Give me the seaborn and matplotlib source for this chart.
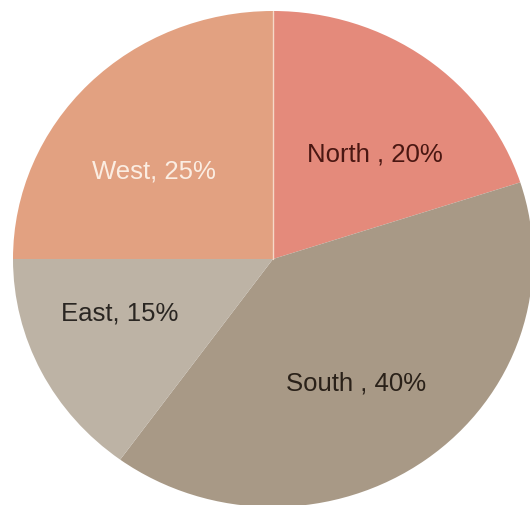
import matplotlib
matplotlib.use("Agg")
import matplotlib.pyplot as plt
import seaborn as sns

regions = ["North", "South", "East", "West"]
shares = [20, 40, 15, 25]
label_texts = ["North , 20%", "South , 40%", "East, 15%", "West, 25%"]
slice_colors = ["#E48A7B", "#A89986", "#BDB3A5", "#E2A181"]
text_colors = ["#4A1712", "#2A2119", "#2A2622", "#FBEDE2"]

# label anchor positions in pie units (layout, not data)
label_x = [0.392, 0.320, -0.590, -0.457]
label_y = [0.425, -0.500, -0.215, 0.355]

sns.set_theme(style="white")
plt.rcParams['font.family'] = ['Liberation Sans', 'DejaVu Sans']

fig = plt.figure(figsize=(5.30, 5.06), dpi=100)
fig.patch.set_facecolor("white")
ax = fig.add_axes([13 / 530, -2 / 506, 520 / 530, 496 / 506])

labels_iter = iter(label_texts)
wedges, _, autotexts = ax.pie(
    shares,
    colors=sns.color_palette(slice_colors),
    startangle=90,
    counterclock=False,
    autopct=lambda p: next(labels_iter),
    pctdistance=0.58,
    wedgeprops=dict(linewidth=0),
    textprops=dict(fontsize=18.5),
)
for t, c, x, y in zip(autotexts, text_colors, label_x, label_y):
    t.set_color(c)
    t.set_position((x, y))

# thin light separator at the top (North/West boundary)
ax.plot([0, 0], [0, 1], color="#F6D9C8", linewidth=1.0)

ax.set_aspect("auto")
ax.set_xlim(-1, 1)
ax.set_ylim(-1, 1)
ax.axis("off")

fig.savefig("out.png", dpi=100, facecolor="white")
